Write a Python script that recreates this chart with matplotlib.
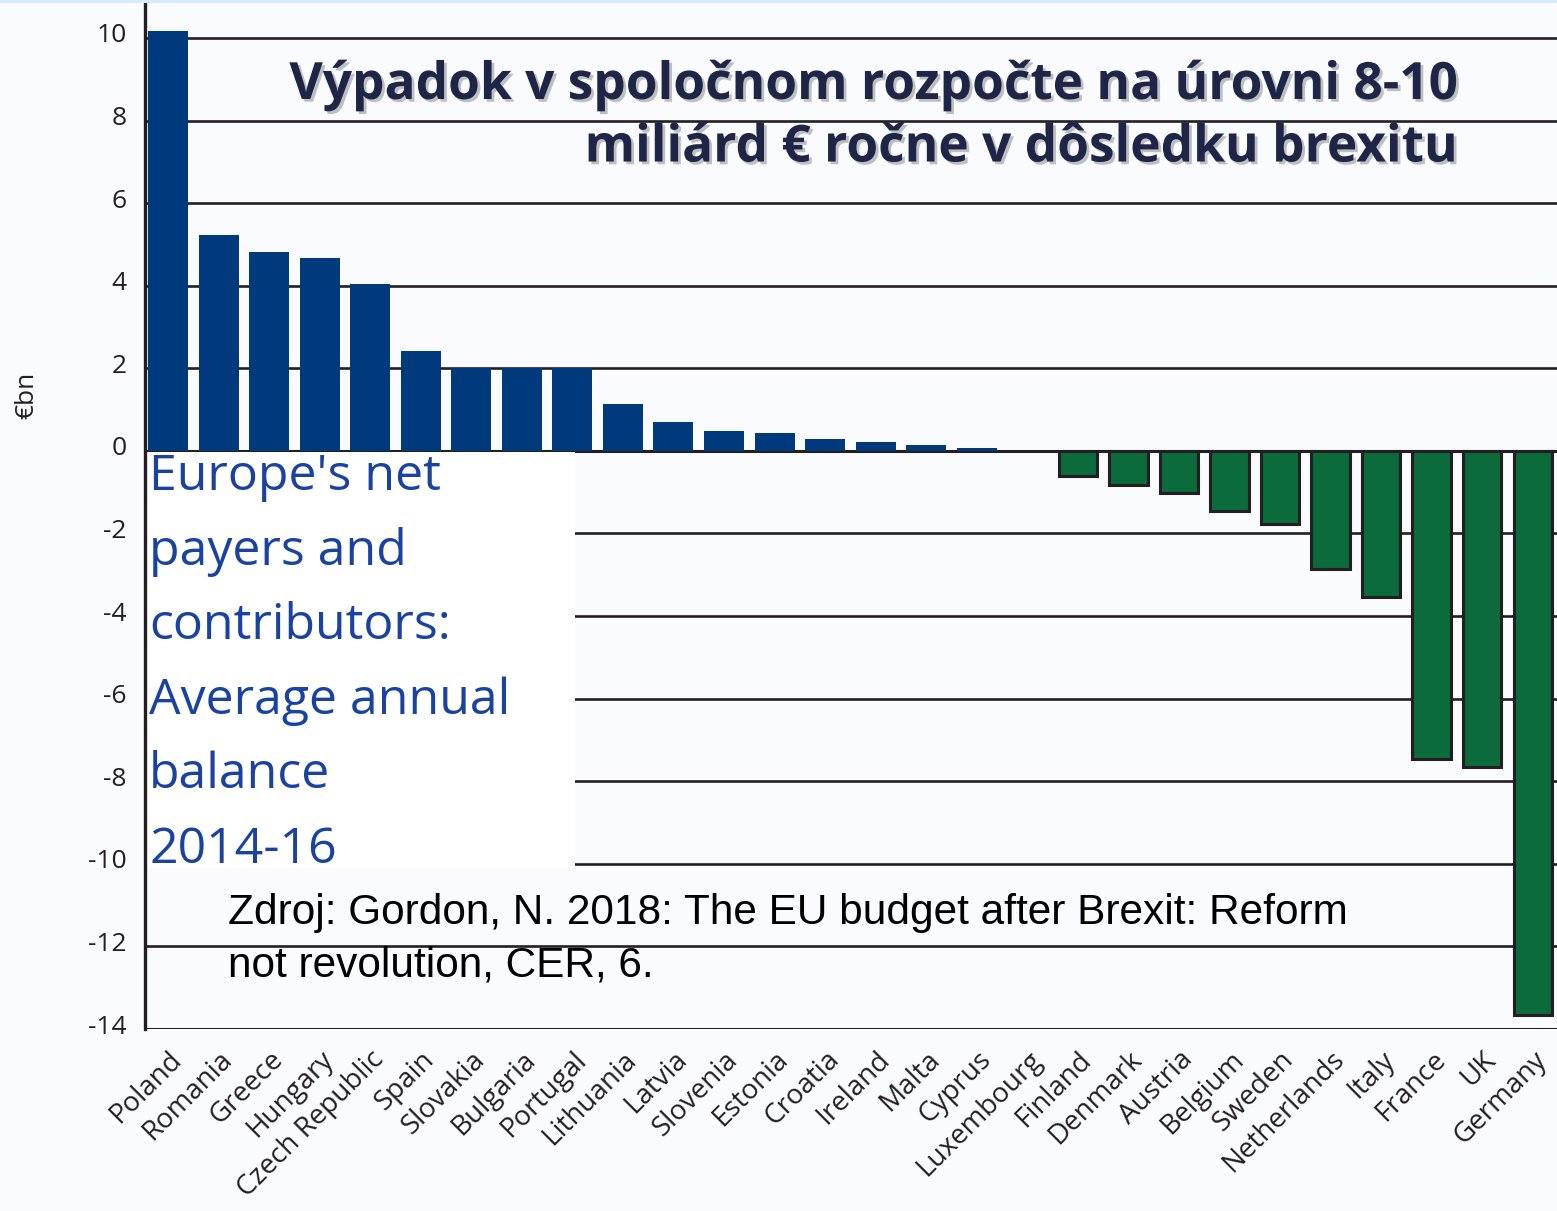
import matplotlib
matplotlib.use("Agg")
import matplotlib.pyplot as plt
import matplotlib.patheffects as pe
import matplotlib.transforms as mtrans
from matplotlib.patches import Rectangle
import numpy as np

countries = ["Poland", "Romania", "Greece", "Hungary", "Czech Republic", "Spain",
             "Slovakia", "Bulgaria", "Portugal", "Lithuania", "Latvia", "Slovenia",
             "Estonia", "Croatia", "Ireland", "Malta", "Cyprus", "Luxembourg",
             "Finland", "Denmark", "Austria", "Belgium", "Sweden", "Netherlands",
             "Italy", "France", "UK", "Germany"]
balance = [10.17, 5.23, 4.82, 4.67, 4.04, 2.41, 2.02, 2.02, 2.0, 1.14, 0.71, 0.49,
           0.44, 0.29, 0.22, 0.15, 0.07, 0.0, -0.61, -0.83, -1.02, -1.46, -1.78,
           -2.87, -3.55, -7.47, -7.66, -13.67]
yticks = [10, 8, 6, 4, 2, 0, -2, -4, -6, -8, -10, -12, -14]

title = "Výpadok v spoločnom rozpočte na úrovni 8-10\nmiliárd € ročne v dôsledku brexitu"
box_text = "Europe's net\npayers and\ncontributors:\nAverage annual\nbalance\n2014-16"
source = "Zdroj: Gordon, N. 2018: The EU budget after Brexit: Reform\nnot revolution, CER, 6."

BG = "#f9fbfe"
BLUE = "#003a7d"
GREEN = "#0b6b3a"
DARK = "#231f20"

fig = plt.figure(figsize=(15.57, 12.11), dpi=100, facecolor=BG)
fig.patches.append(Rectangle((0, 1 - 3/1211), 1, 3/1211, transform=fig.transFigure,
                             facecolor="#d6ecfa", edgecolor="none", zorder=0))
AX_H = 1029
ax = fig.add_axes([145/1557, 1 - AX_H/1211, 1 - 145/1557, AX_H/1211])
ax.set_facecolor(BG)

x = np.arange(len(countries))
ax.set_xlim(-0.455, 27.48)
ax.set_ylim(-14, 10.92)

# gridlines
for t in yticks:
    lw = 2.2 if t in (0, -14) else 1.9
    ax.axhline(t, color=DARK, lw=lw, zorder=1)

pos = [v if v > 0 else 0 for v in balance]
ax.bar(x, pos, width=0.79, color=BLUE, zorder=3)
negx = [i for i, v in enumerate(balance) if v < 0]
ax.bar([x[i] for i in negx], [balance[i] for i in negx], width=0.76, color=GREEN,
       edgecolor=DARK, linewidth=2.2, zorder=3)

# white box
ax.add_patch(Rectangle((0, 1 - 868/AX_H), (575 - 145)/1412, (868 - 452)/AX_H,
                       transform=ax.transAxes, facecolor="white", edgecolor="none", zorder=4))

ax.text(0.003, 1 - 452/AX_H, box_text, transform=ax.transAxes, ha="left", va="top",
        fontsize=36, color="#1a42a0", family="Open Sans", linespacing=1.665, zorder=5)

ax.text((228 - 145)/1412, 1 - 893/AX_H, source, transform=ax.transAxes, ha="left",
        va="top", fontsize=30.5, color="black", family="Liberation Sans",
        linespacing=1.4, zorder=6)

ax.text((1457 - 145)/1412, 1 - 61/AX_H, title, transform=ax.transAxes, ha="right",
        va="top", fontsize=37, fontweight="bold", color="#1f2547", family="Open Sans",
        linespacing=1.33, zorder=6,
        path_effects=[pe.withSimplePatchShadow(offset=(2, -2), shadow_rgbFace="#777777", alpha=0.45)])

for s in ["top", "right", "bottom"]:
    ax.spines[s].set_visible(False)
ax.spines["left"].set_color(DARK)
ax.spines["left"].set_linewidth(2.4)
ax.spines["left"].set_zorder(7)

# y tick labels slightly above gridlines
ax.set_yticks([])
ylab_tr = mtrans.offset_copy(ax.get_yaxis_transform(), fig=fig, x=-0.18, y=0.02, units="inches")
for t in yticks:
    ax.text(0, t, str(t), transform=ylab_tr, ha="right", va="center", fontsize=19,
            color=DARK, family="Open Sans", clip_on=False)

ax.set_xticks(x)
ax.set_xticklabels(countries, rotation=45, ha="right", va="top", rotation_mode="anchor",
                   fontsize=20, color=DARK, family="Open Sans")
ax.tick_params(axis="x", length=0, pad=12)

fig.text(27/1557, 1 - 395/1211, "€bn", rotation=90, ha="center", va="center",
         fontsize=19, color=DARK, family="Open Sans")

fig.savefig("out.png", dpi=100, facecolor=BG)
